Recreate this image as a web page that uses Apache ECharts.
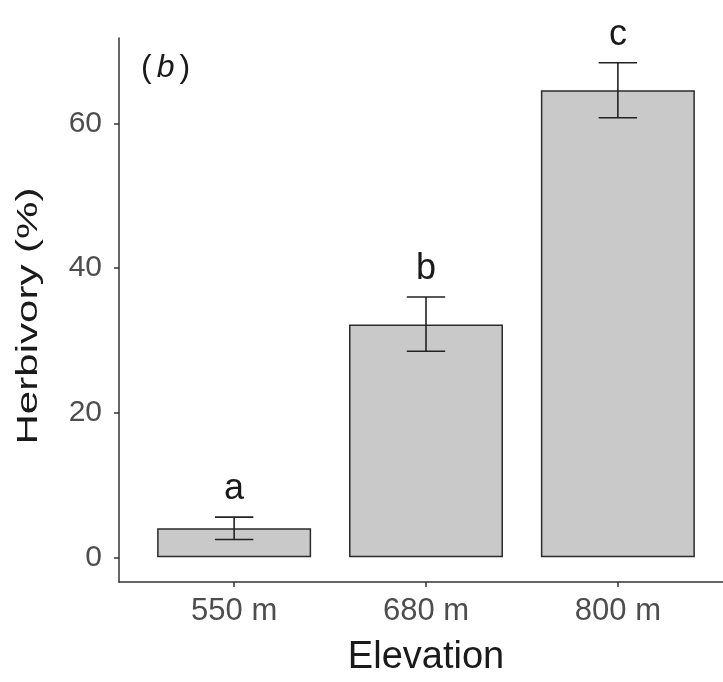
<!DOCTYPE html>
<html>
<head>
<meta charset="utf-8">
<script src="https://cdn.jsdelivr.net/npm/echarts@6/dist/echarts.min.js"></script>
<style>
html,body{margin:0;padding:0;background:#fff;}
#chart{width:723px;height:682px;}
</style>
</head>
<body>
<div id="chart"></div>
<script>
// Data
var categories = ['550 m', '680 m', '800 m'];
var herbivory = [4.0, 32.2, 64.6];
var errLow = [2.45, 28.5, 60.8];
var errHigh = [5.55, 36.0, 68.4];
var sigLetters = ['a', 'b', 'c'];
var yTicks = [0, 20, 40, 60];
var xTitle = 'Elevation';
var yTitle = 'Herbivory (%)';
var panelTag = 'b';

var chart = echarts.init(document.getElementById('chart'), null, {renderer: 'canvas'});

var barData = categories.map(function (c, i) { return [i + 1, herbivory[i]]; });
var errData = categories.map(function (c, i) { return [i + 1, errLow[i], errHigh[i], i]; });

var dataMax = Math.max.apply(null, errHigh);
var pad = dataMax * 0.05;

var FONT = '"Liberation Sans", Arial, sans-serif';

var option = {
  backgroundColor: '#ffffff',
  animation: false,
  grid: {left: 119, width: 614, top: 38, bottom: 100, outerBoundsMode: 'none', containLabel: false},
  xAxis: {
    type: 'value',
    min: 0.4,
    max: 3.6,
    name: xTitle,
    nameLocation: 'middle',
    nameGap: 57,
    nameTextStyle: {fontFamily: FONT, fontSize: 38, color: '#1a1a1a'},
    axisLine: {show: true, onZero: false, lineStyle: {color: '#333', width: 1.5}},
    axisTick: {show: true, length: 5, customValues: [1, 2, 3], lineStyle: {color: '#333', width: 1.5}},
    axisLabel: {
      customValues: [1, 2, 3],
      margin: 14,
      fontFamily: FONT, fontSize: 31, color: '#4d4d4d',
      formatter: function (v) { return categories[Math.round(v) - 1]; }
    },
    splitLine: {show: false}
  },
  yAxis: {
    type: 'value',
    min: -pad,
    max: dataMax + pad,
    axisLine: {show: true, onZero: false, lineStyle: {color: '#333', width: 1.5}},
    axisTick: {show: true, length: 5, customValues: yTicks, lineStyle: {color: '#333', width: 1.5}},
    axisLabel: {
      customValues: yTicks,
      margin: 17,
      fontFamily: FONT, fontSize: 30, color: '#4d4d4d'
    },
    splitLine: {show: false}
  },
  graphic: [
    {
      type: 'text',
      x: 29,
      y: 316,
      rotation: Math.PI / 2,
      scaleX: 1.45,
      style: {
        text: yTitle,
        fontFamily: FONT, fontSize: 29, fill: '#1a1a1a',
        align: 'center', verticalAlign: 'middle'
      }
    },
    {
      type: 'text',
      x: 141,
      y: 52,
      style: {
        text: '{n|(}{i|' + panelTag + '}{n|)}',
        rich: {
          n: {fontFamily: FONT, fontSize: 32, fill: '#1a1a1a'},
          i: {fontFamily: FONT, fontSize: 32, fontStyle: 'italic', fill: '#1a1a1a', padding: [0, 5, 0, 5]}
        }
      }
    }
  ],
  series: [
    {
      type: 'bar',
      data: barData,
      barWidth: 154,
      z: 2,
      itemStyle: {color: '#c9c9c9', borderColor: '#2b2b2b', borderWidth: 1.5}
    },
    {
      type: 'custom',
      data: errData,
      z: 5,
      renderItem: function (params, api) {
        var x = api.value(0);
        var lo = api.coord([x, api.value(1)]);
        var hi = api.coord([x, api.value(2)]);
        var half = (api.coord([x + 0.1, 0])[0] - api.coord([x, 0])[0]);
        var idx = api.value(3);
        var st = {stroke: '#222', lineWidth: 1.6};
        return {
          type: 'group',
          children: [
            {type: 'line', shape: {x1: lo[0], y1: lo[1], x2: hi[0], y2: hi[1]}, style: st},
            {type: 'line', shape: {x1: lo[0] - half, y1: lo[1], x2: lo[0] + half, y2: lo[1]}, style: st},
            {type: 'line', shape: {x1: hi[0] - half, y1: hi[1], x2: hi[0] + half, y2: hi[1]}, style: st},
            {type: 'text', x: hi[0], y: hi[1] - 10,
              style: {text: sigLetters[idx], fontFamily: FONT, fontSize: 36, fill: '#1a1a1a',
                align: 'center', verticalAlign: 'bottom'}}
          ]
        };
      }
    }
  ]
};
chart.setOption(option);
</script>
</body>
</html>
